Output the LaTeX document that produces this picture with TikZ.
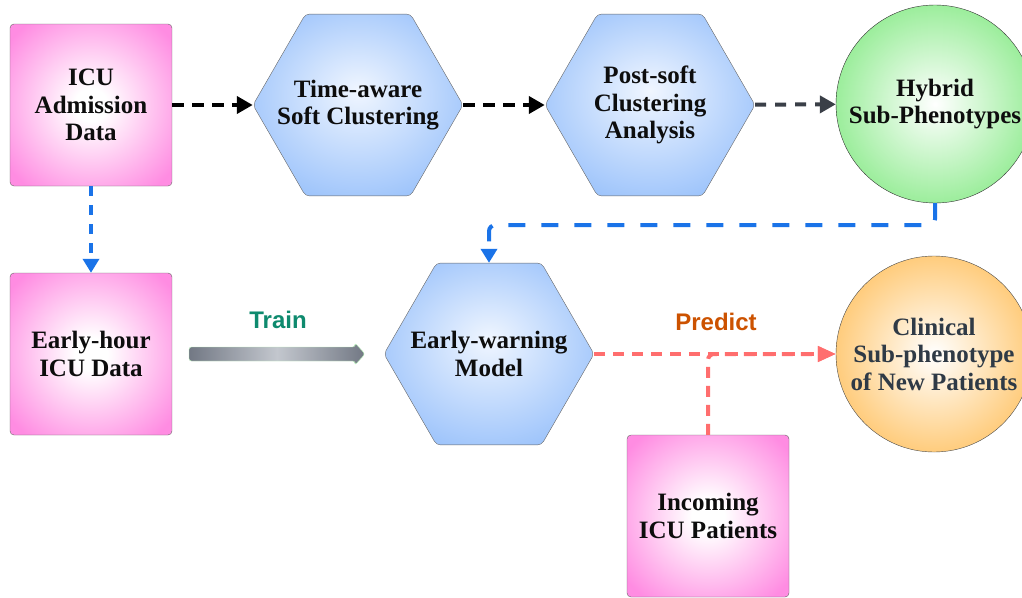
\documentclass[tikz,border=0pt]{standalone}
\usepackage{fontspec}
\setmainfont{Liberation Serif}
\newfontfamily\labelfont{Liberation Sans}
\usepackage{tikz}
\usetikzlibrary{arrows.meta,shapes.geometric}
\usepackage{xcolor}

\definecolor{boxpink}{HTML}{FF8CE2}
\definecolor{hexblue}{HTML}{8AB8FA}
\definecolor{hexlight}{HTML}{F0F6FF}
\definecolor{hybgreen}{HTML}{88EA88}
\definecolor{clinorange}{HTML}{FFC263}
\definecolor{flowblue}{HTML}{1A73E8}
\definecolor{flowsalmon}{HTML}{FF6E6E}
\definecolor{flowslate}{HTML}{3A3F47}
\definecolor{traindark}{HTML}{727884}
\definecolor{trainlight}{HTML}{C3C7CE}
\definecolor{trainedge}{HTML}{B9EFB9}
\definecolor{trainteal}{HTML}{0E8A6E}
\definecolor{predictrust}{HTML}{CC5200}
\definecolor{clintext}{HTML}{2F3A46}

\pgfdeclareradialshading{pinkglow}{\pgfpoint{0bp}{0bp}}{color(0bp)=(white); color(5bp)=(white); color(32bp)=(boxpink); color(50bp)=(boxpink)}
\pgfdeclareradialshading{blueglow}{\pgfpoint{0bp}{4bp}}{color(0bp)=(hexlight); color(36bp)=(hexblue); color(50bp)=(hexblue)}
\pgfdeclareradialshading{greenglow}{\pgfpoint{0bp}{0bp}}{color(0bp)=(white); color(30bp)=(hybgreen); color(50bp)=(hybgreen)}
\pgfdeclareradialshading{orangeglow}{\pgfpoint{0bp}{0bp}}{color(0bp)=(white); color(30bp)=(clinorange); color(50bp)=(clinorange)}

\begin{document}
\begin{tikzpicture}[x=1pt,y=-1pt,line cap=butt,
  nodefont/.style={font=\bfseries\fontsize{25}{27.5}\selectfont},
  databox/.style={nodefont,rectangle,rounded corners=4pt,draw=black!60,thin,
    shading=pinkglow,minimum width=162pt,minimum height=162pt,inner sep=0pt,
    align=center,text=black!95},
  stepbox/.style={regular polygon,regular polygon sides=6,minimum size=210pt,
    inner sep=0pt,rounded corners=4pt,draw=black!60,thin,shading=blueglow},
  steptext/.style={nodefont,align=center,text=black!95,inner sep=0pt},
  greenball/.style={nodefont,circle,minimum size=198pt,inner sep=0pt,draw=black!80,thin,
    shading=greenglow,align=center,text=black!95},
  orangeball/.style={nodefont,circle,minimum size=196pt,inner sep=0pt,draw=black!70,thin,
    shading=orangeglow,align=center,text=clintext},
  darkflow/.style={line width=4pt,dash pattern=on 12pt off 8pt,
    -{Triangle[length=16pt,width=17pt]}},
  blueflow/.style={flowblue,line width=4pt,dash pattern=on 17pt off 16pt,
    -{Triangle[length=14pt,width=16pt]}},
  salmonflow/.style={flowsalmon,line width=4pt,dash pattern=on 11pt off 8pt,
    -{Triangle[length=18pt,width=15pt]}},
  flowlabel/.style={font=\labelfont\bfseries\fontsize{24}{28}\selectfont}]
\useasboundingbox (0,0) rectangle (1022,597);

% nodes
\node[databox] (admission) at (91,105) {ICU\\Admission\\Data};
\node[stepbox] (timeaware) at (358,105) {};
\node[steptext] (timeawaretext) at (timeaware) {Time-aware\\Soft Clustering};
\node[stepbox] (postsoft) at (650,105) {};
\node[steptext] (postsofttext) at (postsoft) {Post-soft\\Clustering\\Analysis};
\node[greenball] (hybrid) at (935,104) {Hybrid\\Sub-Phenotypes};
\node[databox] (earlyhour) at (91,354) {Early-hour\\ICU Data};
\node[stepbox] (earlywarning) at (489,354) {};
\node[steptext] (earlywarningtext) at (earlywarning) {Early-warning\\Model};
\node[orangeball] (clinical) at (934,354) {Clinical\\Sub-phenotype\\of New Patients};
\node[databox] (incoming) at (708,516) {Incoming\\ICU Patients};

% top row
\draw[darkflow] (admission) -- (timeaware);
\draw[darkflow] (timeaware) -- (postsoft);
\draw[darkflow,flowslate,dash pattern=on 11pt off 9pt] (postsoft) -- (hybrid);

% blue links
\draw[blueflow,rounded corners=6pt] (hybrid.south) -- ++(0,22) -| (earlywarning.north);
\draw[blueflow,dash pattern=on 10pt off 9pt] (admission) -- (earlyhour);

% train arrow
\coordinate (trainfrom) at (189,354);
\coordinate (trainto) at (365,354);
\path[draw=trainedge,thin,rounded corners=2.5pt,left color=traindark,right color=traindark,middle color=trainlight]
  (trainfrom) ++(0,-7) -- ++(166,0) -- ++(0,-4) -- (trainto) -- ++(-10,11) -- ++(0,-4) -- ++(-166,0) -- cycle;
\node[flowlabel,text=trainteal] (trainlabel) at (278,320) {Train};

% prediction
\draw[salmonflow] (earlywarning) -- (clinical);
\draw[salmonflow,rounded corners=6pt] (incoming.north) |- (clinical.west);
\node[flowlabel,text=predictrust] (predictlabel) at (716,322) {Predict};
\end{tikzpicture}
\end{document}
